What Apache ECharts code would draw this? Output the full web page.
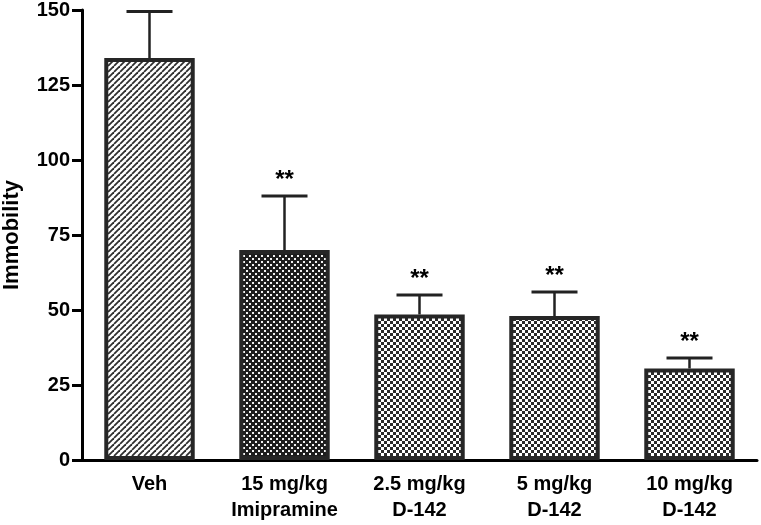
<!DOCTYPE html>
<html>
<head>
<meta charset="utf-8">
<script src="https://cdn.jsdelivr.net/npm/echarts@6/dist/echarts.min.js"></script>
<style>html,body{margin:0;padding:0;background:#fff}#c{width:761px;height:525px}</style>
</head>
<body>
<div id="c"></div>
<script>
var categories = ['Veh\n ', '15 mg/kg\nImipramine', '2.5 mg/kg\nD-142', '5 mg/kg\nD-142', '10 mg/kg\nD-142'];
var means = [134, 70, 48.5, 48, 30.5];
var errTops = [149.5, 88, 55, 56, 34];
var marks = ['', '**', '**', '**', '**'];
var yTicks = [0, 25, 50, 75, 100, 125, 150];

function makeHatch() {
  var c = document.createElement('canvas'); c.width = 6; c.height = 6;
  var g = c.getContext('2d');
  g.fillStyle = '#fff'; g.fillRect(0, 0, 6, 6);
  g.strokeStyle = '#2e2e2e'; g.lineWidth = 1.8;
  for (var k = -6; k <= 12; k += 6) { g.beginPath(); g.moveTo(k, 6); g.lineTo(k + 6, 0); g.stroke(); }
  return c;
}
function makeChecker(dark, light, dot) {
  var c = document.createElement('canvas'); c.width = 6; c.height = 6;
  var g = c.getContext('2d');
  g.fillStyle = dark; g.fillRect(0, 0, 6, 6);
  g.fillStyle = light;
  g.fillRect(0, 0, dot, dot); g.fillRect(3, 3, dot, dot);
  return c;
}
var hatch = makeHatch();
var checkDark = makeChecker('#1e1e1e', '#f2f2f2', 2);
var checkLight = makeChecker('#2a2a2a', '#ffffff', 3);
var fills = [hatch, checkDark, checkLight, checkLight, checkLight];

var chart = echarts.init(document.getElementById('c'), null, {renderer: 'canvas'});
var font = 'Liberation Sans, Arial, sans-serif';
chart.setOption({
  animation: false,
  grid: {left: 82, right: 4, top: 10, bottom: 65, containLabel: false, outerBoundsMode: 'none'},
  xAxis: {
    type: 'category', data: categories,
    axisLine: {lineStyle: {color: '#000', width: 3}},
    axisTick: {alignWithLabel: true, length: 8, lineStyle: {color: '#000', width: 3}},
    axisLabel: {color: '#000', fontFamily: font, fontWeight: 'bold', fontSize: 20, margin: 11, lineHeight: 26, interval: 0}
  },
  yAxis: {
    type: 'value', min: 0, max: 150, interval: 25,
    name: 'Immobility', nameLocation: 'middle', nameGap: 59, nameRotate: 90,
    nameTextStyle: {color: '#000', fontFamily: font, fontWeight: 'bold', fontSize: 22},
    axisLine: {show: true, lineStyle: {color: '#000', width: 3}},
    axisTick: {show: true, length: 10, lineStyle: {color: '#000', width: 3}},
    axisLabel: {color: '#000', fontFamily: font, fontWeight: 'bold', fontSize: 20, margin: 12},
    splitLine: {show: false}
  },
  series: [
    {
      type: 'bar', barWidth: '67%',
      data: means.map(function (v, i) {
        return {value: v, itemStyle: {color: {image: fills[i], repeat: 'repeat'}, borderColor: '#262626', borderWidth: 4}};
      }),
      z: 2
    },
    {
      type: 'custom', z: 1,
      data: means.map(function (v, i) { return [i, v, errTops[i], marks[i]]; }),
      renderItem: function (params, api) {
        var b = api.coord([api.value(0), api.value(1)]);
        var t = api.coord([api.value(0), api.value(2)]);
        var hw = 23;
        var children = [
          {type: 'line', shape: {x1: b[0], y1: b[1], x2: t[0], y2: t[1]}, style: {stroke: '#222', lineWidth: 2.5}},
          {type: 'line', shape: {x1: t[0] - hw, y1: t[1], x2: t[0] + hw, y2: t[1]}, style: {stroke: '#222', lineWidth: 3}}
        ];
        var m = marks[params.dataIndex];
        if (m) {
          children.push({type: 'text', style: {text: m, x: t[0], y: t[1] - 4, textAlign: 'center', textVerticalAlign: 'bottom', fill: '#000', font: 'bold 24px ' + font}});
        }
        return {type: 'group', children: children};
      }
    }
  ]
});
</script>
</body>
</html>
